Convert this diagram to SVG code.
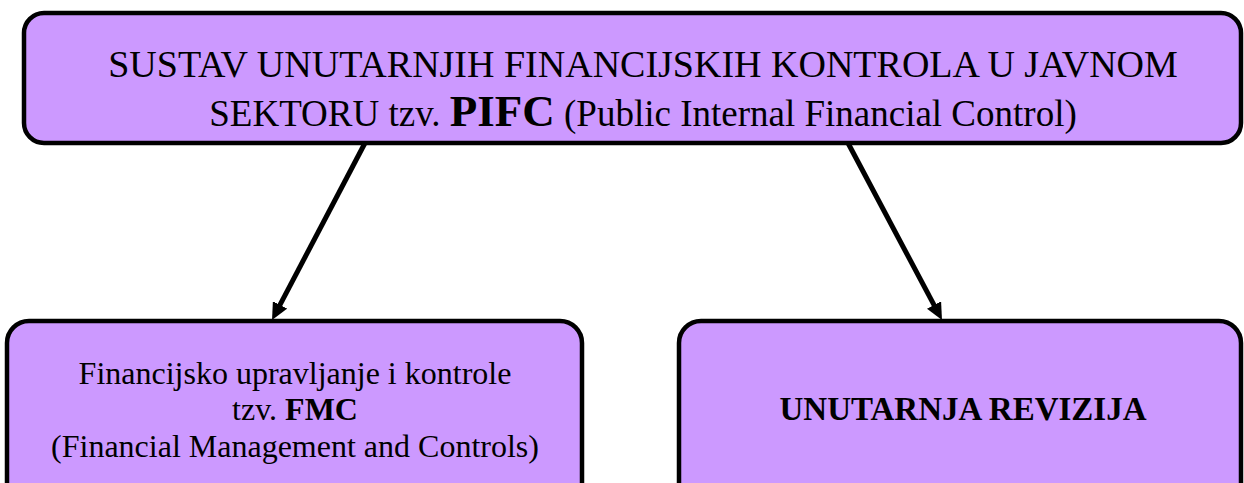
<svg xmlns="http://www.w3.org/2000/svg" width="1244" height="483" viewBox="0 0 1244 483">
<style>
.box{fill:#cc99ff;stroke:#000;stroke-width:4.5}
.t{font-family:"Liberation Serif","Times New Roman",serif;fill:#000;text-anchor:middle}
.edge{stroke:#000;stroke-width:5;fill:none}
</style>
<defs>
<marker id="ah" markerWidth="17" markerHeight="16" refX="7" refY="8" orient="auto" markerUnits="userSpaceOnUse">
<path d="M0,0 L17,8 L0,16 Z" fill="#000"/>
</marker>
</defs>
<rect width="1244" height="483" fill="#fff"/>
<g id="pifc">
<rect class="box" x="24" y="13" width="1217" height="130" rx="20"/>
<text class="t" x="643" y="77" font-size="38">SUSTAV UNUTARNJIH FINANCIJSKIH KONTROLA U JAVNOM</text>
<text class="t" x="643" y="126" font-size="37">SEKTORU tzv. <tspan font-weight="bold" font-size="45">PIFC</tspan> (Public Internal Financial Control)</text>
</g>
<g id="fmc">
<rect class="box" x="7" y="321" width="575" height="200" rx="22"/>
<text class="t" x="295" y="384" font-size="32">Financijsko upravljanje i kontrole</text>
<text class="t" x="295" y="420" font-size="32">tzv. <tspan font-weight="bold">FMC</tspan></text>
<text class="t" x="295" y="457" font-size="32">(Financial Management and Controls)</text>
</g>
<g id="revizija">
<rect class="box" x="679" y="321" width="562" height="200" rx="22"/>
<text class="t" x="963" y="420" font-size="33" font-weight="bold">UNUTARNJA REVIZIJA</text>
</g>
<g id="connectors">
<line class="edge" x1="365" y1="143" x2="276.7" y2="311.1" marker-end="url(#ah)"/>
<line class="edge" x1="848" y1="143" x2="937.3" y2="311.2" marker-end="url(#ah)"/>
</g>
</svg>
